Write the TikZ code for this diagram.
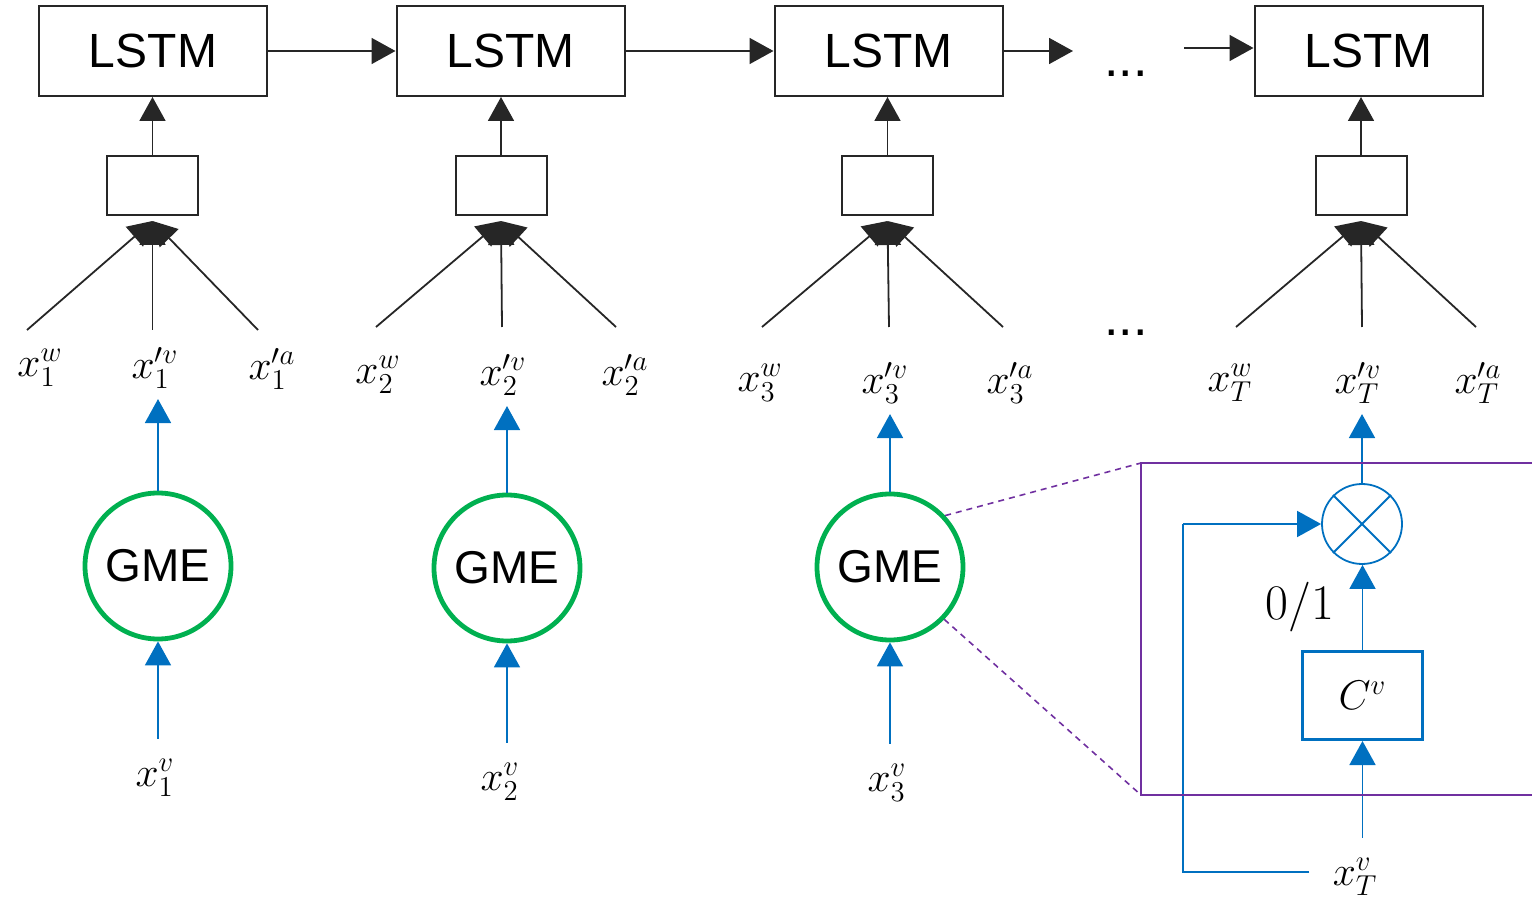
\documentclass[tikz,border=0pt]{standalone}
\usepackage{fontspec}
\setmainfont{Liberation Sans}
\usetikzlibrary{arrows.meta}
\definecolor{ink}{HTML}{262626}
\definecolor{gmegreen}{HTML}{00B050}
\definecolor{flowblue}{HTML}{0070C0}
\definecolor{zoompurple}{HTML}{7030A0}

\begin{document}
\begin{tikzpicture}[x=0.5pt,y=-0.5pt,
  lstm/.style={draw=ink, line width=1pt, minimum width=114pt, minimum height=45pt,
    inner sep=0pt, font=\fontsize{24}{28}\selectfont},
  merge/.style={draw=ink, line width=1pt, minimum width=45.5pt, minimum height=29.5pt, inner sep=0pt},
  gme/.style={circle, draw=gmegreen, line width=2.4pt, minimum size=73pt, inner sep=0pt,
    font=\fontsize{23}{27}\selectfont},
  lab/.style={inner sep=0pt, font=\fontsize{22}{26}\selectfont},
  dots/.style={inner sep=0pt, font=\fontsize{26}{30}\selectfont},
  blk/.style={draw=ink, line width=0.9pt, -{Triangle[length=12pt,width=13pt]}},
  blu/.style={draw=flowblue, line width=0.9pt, -{Triangle[length=12pt,width=13pt]}},
  bluline/.style={draw=flowblue, line width=0.9pt},
  zoomline/.style={draw=zoompurple, line width=1pt},
  zoomdash/.style={draw=zoompurple, line width=0.8pt, dash pattern=on 3pt off 2.5pt},
]
\useasboundingbox (0,0) rectangle (1532,903);

% LSTM chain
\node[lstm] (L1) at (153,51) {LSTM};
\node[lstm] (L2) at (510.5,51) {LSTM};
\node[lstm] (L3) at (888.5,51) {LSTM};
\node[lstm] (L4) at (1368.5,51) {LSTM};
\coordinate (c3) at (1073,51);
\coordinate (c4) at (1184,48);
\node[dots, anchor=base] (d1) at (1126,77) {...};
\node[dots, anchor=base] (d2) at (1126,336) {...};
\draw[blk] (L1.east) -- (L2.west);
\draw[blk] (L2.east) -- (L3.west);
\draw[blk] (L3.east) -- (c3);
\draw[blk] (c4) -- (c4 -| L4.west);

% merge boxes
\node[merge] (M1) at (152.5,185.5) {};
\node[merge] (M2) at (501,185.5) {};
\node[merge] (M3) at (887.5,185.5) {};
\node[merge] (M4) at (1361,185.5) {};
\foreach \i in {1,2,3,4} {
  \draw[blk] (M\i.north) -- (M\i.north |- L\i.south);
}

% inputs of each step
\node[lab] (w1) at (40,368) {$x^{w}_{1}$};
\node[lab] (v1) at (155,368) {$x'^{v}_{1}$};
\node[lab] (a1) at (272,369) {$x'^{a}_{1}$};
\node[lab] (w2) at (378,375) {$x^{w}_{2}$};
\node[lab] (v2) at (503,375) {$x'^{v}_{2}$};
\node[lab] (a2) at (625,375) {$x'^{a}_{2}$};
\node[lab] (w3) at (760,383) {$x^{w}_{3}$};
\node[lab] (v3) at (885,383) {$x'^{v}_{3}$};
\node[lab] (a3) at (1010,383) {$x'^{a}_{3}$};
\node[lab] (w4) at (1230,383) {$x^{w}_{T}$};
\node[lab] (v4) at (1358,383) {$x'^{v}_{T}$};
\node[lab] (a4) at (1478,383) {$x'^{a}_{T}$};

% line feet above the input labels
\coordinate (pw1) at (27,330);  \coordinate (pv1) at (152.5,330); \coordinate (pa1) at (258,330);
\coordinate (pw2) at (376,327); \coordinate (pv2) at (502,327);   \coordinate (pa2) at (616,327);
\coordinate (pw3) at (762,327); \coordinate (pv3) at (889,327);   \coordinate (pa3) at (1003,327);
\coordinate (pw4) at (1236,327);\coordinate (pv4) at (1362,327);  \coordinate (pa4) at (1476,327);
\foreach \i in {1,2,3,4} {
  \draw[blk] (pw\i) -- ([yshift=-2.5pt]M\i.south);
  \draw[blk] (pa\i) -- ([yshift=-2.5pt]M\i.south);
  \draw[blk] (pv\i) -- ([yshift=-2.5pt]M\i.south);
}

% GME units
\node[gme] (G1) at (158,566) {GME};
\node[gme] (G2) at (507,568) {GME};
\node[gme] (G3) at (890,567) {GME};
\node[lab] (x1) at (155,778) {$x^{v}_{1}$};
\node[lab] (x2) at (500,782) {$x^{v}_{2}$};
\node[lab] (x3) at (887,783) {$x^{v}_{3}$};
\foreach \i in {1,2,3} {
  \draw[blu, shorten >=5pt] (G\i.north) -- (G\i.north |- v\i.south);
  \draw[blu, shorten <=10pt] (G\i.south |- x\i.north) -- (G\i.south);
}

% detail of the gating unit
\node[circle, draw=flowblue, line width=0.9pt, minimum size=40pt, inner sep=0pt] (ot) at (1362,524) {};
\draw[bluline] (ot.north east) -- (ot.south west);
\draw[bluline] (ot.north west) -- (ot.south east);
\node[draw=flowblue, line width=1.5pt, minimum width=60pt, minimum height=44pt, inner sep=0pt,
  font=\fontsize{22}{26}\selectfont] (cv) at (1362.5,695.5) {$C^{v}$};
\node[lab, font=\fontsize{24}{28}\selectfont] (bin) at (1300,607) {$0/1$};
\node[lab] (xT) at (1355,877) {$x^{v}_{T}$};
\coordinate (fb) at (1183,872);
\draw[blu, shorten >=5pt] (ot.north) -- (ot.north |- v4.south);
\draw[blu] (cv.north) -- (cv.north |- ot.south);
\draw[blu, shorten <=10pt] (cv.south |- xT.north) -- (cv.south);
\draw[bluline] ([xshift=-11.5pt]xT.west |- fb) -- (fb) -- (fb |- ot.west);
\draw[blu] (fb |- ot.west) -- (ot.west);

% zoom frame
\coordinate (zt) at (1141,463);
\coordinate (zb) at (1141,795);
\coordinate (zte) at (1532,463);
\coordinate (zbe) at (1532,795);
\draw[zoomline] (zte) -- (zt) -- (zb) -- (zbe);
\draw[zoomdash] (G3.43) -- (zt);
\draw[zoomdash] (G3.-44) -- (zb);
\end{tikzpicture}
\end{document}
